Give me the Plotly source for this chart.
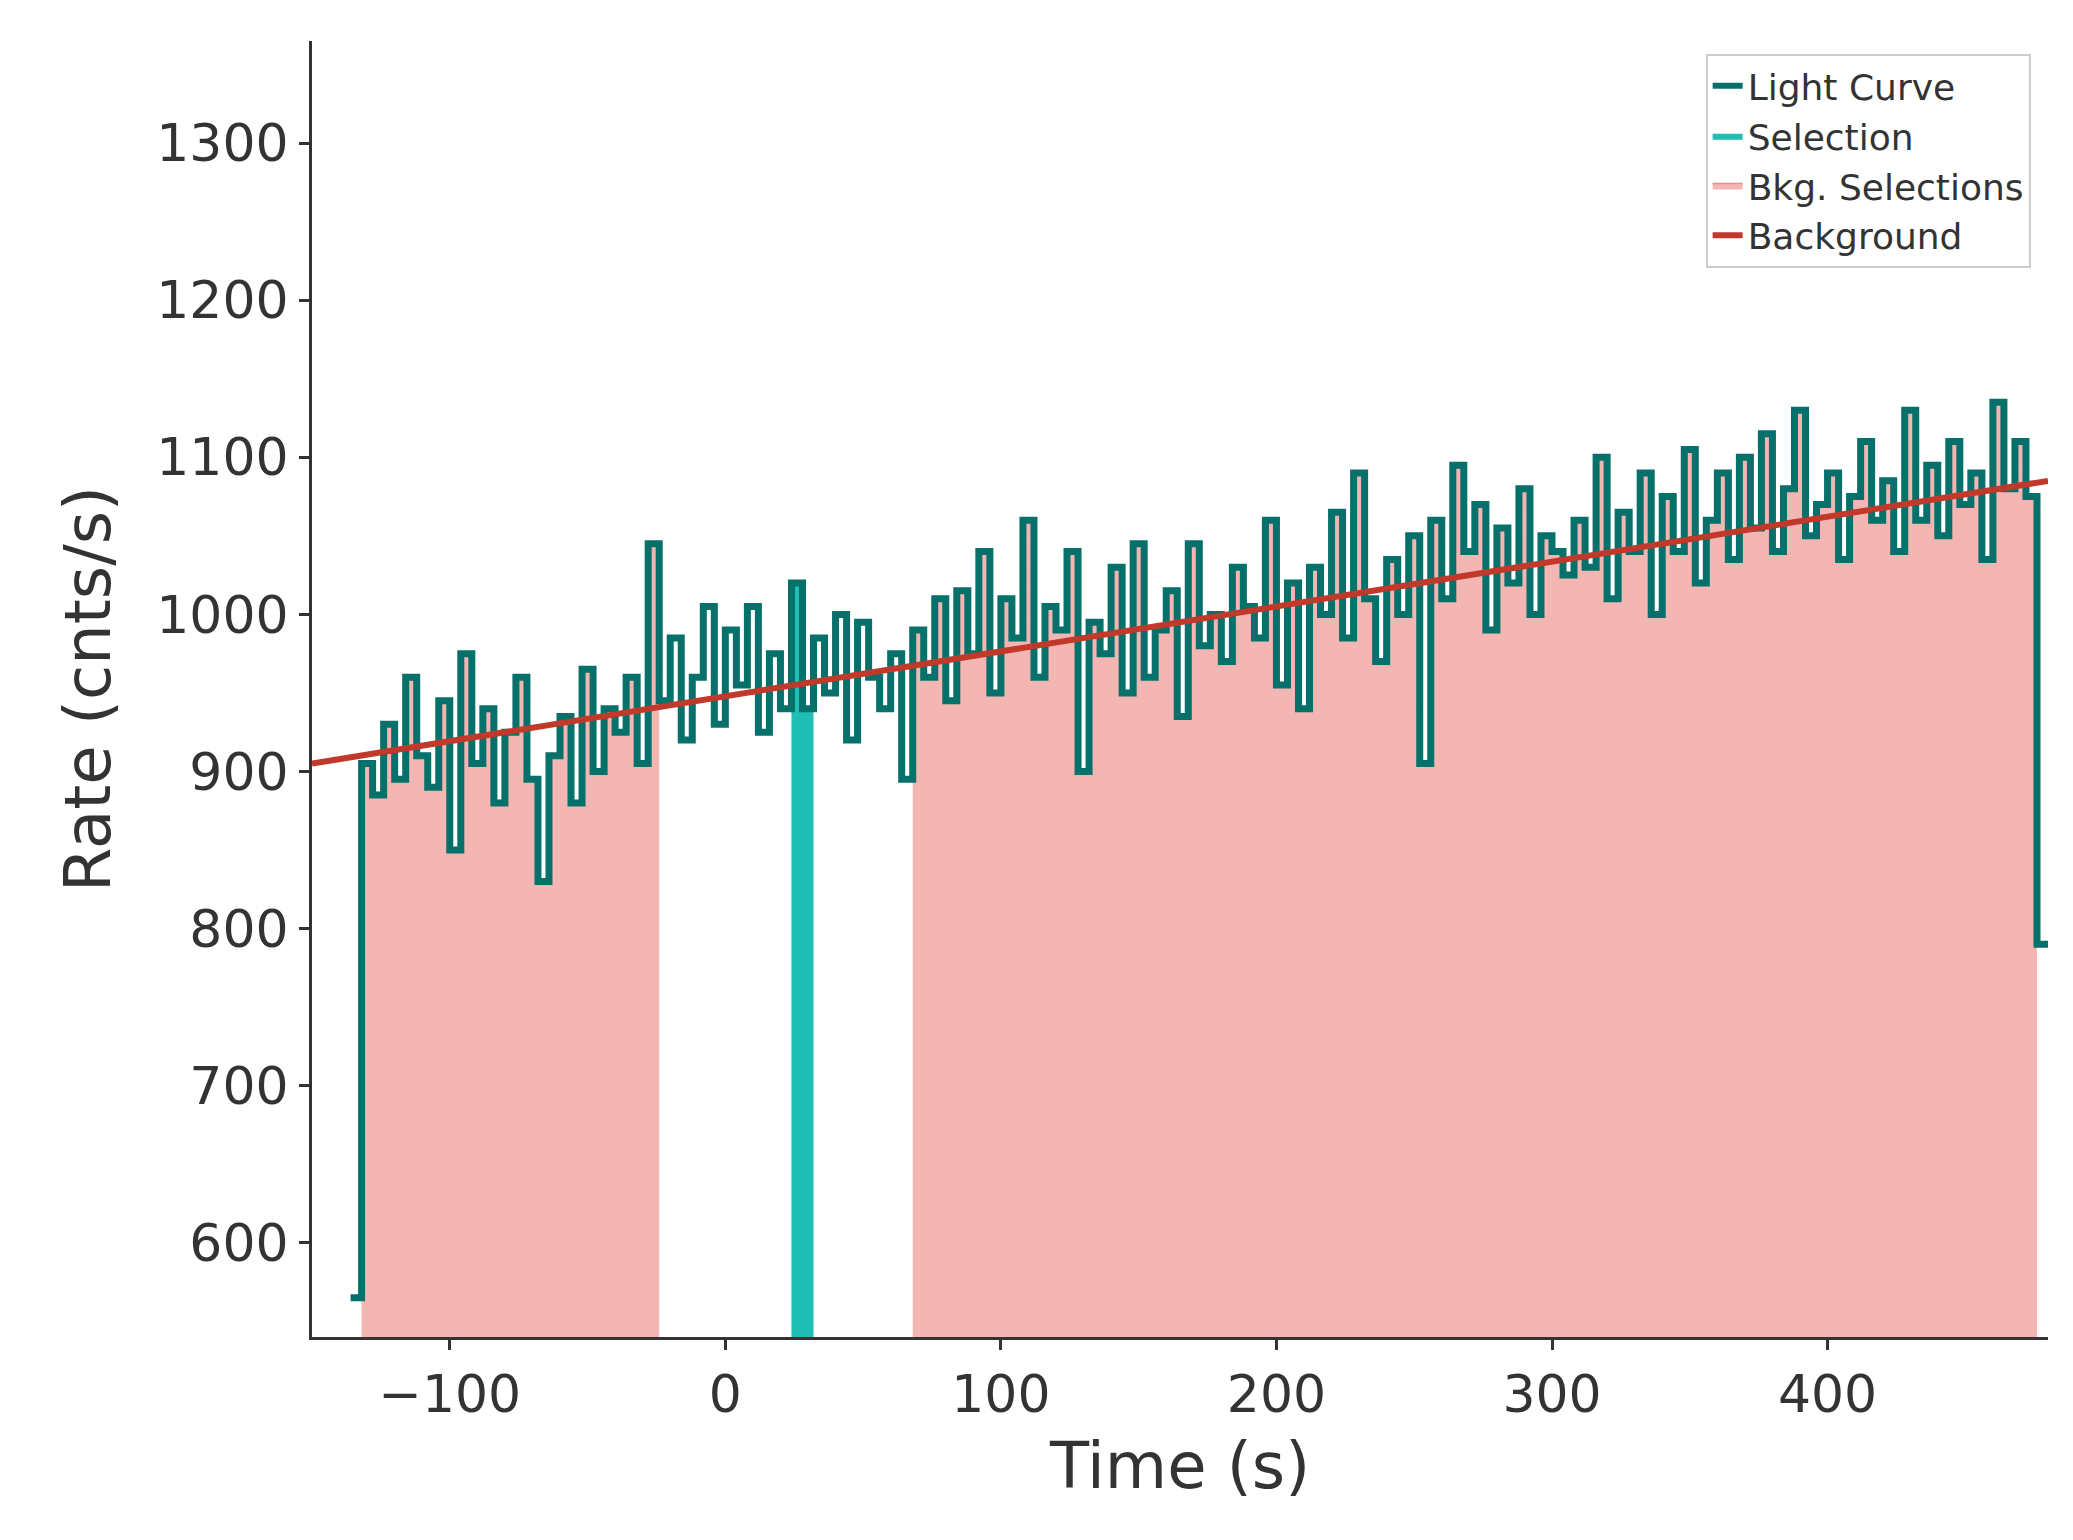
import plotly.graph_objects as go

t0 = -136
bin_w = 4
rates = [565,
 905, 885, 930, 895, 960, 910, 890, 945, 850,
 975, 905, 940, 880, 925, 960, 895, 830, 910,
 935, 880, 965, 900, 940, 925, 960, 905, 1045,
 945, 985, 920, 960, 1005, 930, 990, 955, 1005, 925, 975, 940,
 1020, 940,
 985, 950, 1000, 920, 995, 960, 940, 975, 895,
 990, 960, 1010, 945, 1015, 975, 1040, 950, 1010, 985,
 1060, 960, 1005, 990, 1040, 900, 995, 975, 1030, 950,
 1045, 960, 990, 1015, 935, 1045, 980, 1000, 970, 1030,
 1005, 985, 1060, 955, 1020, 940, 1030, 1000, 1065, 985,
 1090, 1010, 970, 1035, 1000, 1050, 905, 1060, 1010, 1095,
 1040, 1070, 990, 1055, 1020, 1080, 1000, 1050, 1040, 1025,
 1060, 1030, 1100, 1010, 1065, 1040, 1090, 1000, 1075, 1040,
 1105, 1020, 1060, 1090, 1035, 1100, 1055, 1115, 1040, 1080,
 1130, 1050, 1070, 1090, 1035, 1075, 1110, 1060, 1085, 1040,
 1130, 1060, 1095, 1050, 1110, 1070, 1090, 1035, 1135, 1080,
 1110, 1075, 790]
edges = [t0 + bin_w * i for i in range(len(rates) + 1)]

sel_bins = (40, 41)
bkg_bins = [(1, 27), (51, 152)]
bkg_line_x = [-150, 480]
bkg_line_y = [905, 1085]

def step(i, j):
    return edges[i:j + 2], rates[i:j + 1] + [rates[j]]

fig = go.Figure()
fig.add_trace(go.Scatter(x=[None], y=[None], mode="lines", line=dict(color="#06706a", width=6),
                         name="Light Curve"))
x, y = step(*sel_bins)
fig.add_trace(go.Scatter(x=x, y=y, mode="lines", line=dict(color="#1fbfb5", width=0, shape="hv"),
                         fill="tozeroy", fillcolor="#1fbfb5", name="Selection"))
for k, (i, j) in enumerate(bkg_bins):
    x, y = step(i, j)
    fig.add_trace(go.Scatter(x=x, y=y, mode="lines", line=dict(color="#f08a80", width=1.5, shape="hv"),
                             fill="tozeroy", fillcolor="#f4b6b2", name="Bkg. Selections",
                             showlegend=(k == 0)))
fig.add_trace(go.Scatter(x=edges, y=rates + [rates[-1]], mode="lines", line=dict(color="#06706a", width=7, shape="hv"),
                         showlegend=False))
fig.add_trace(go.Scatter(x=bkg_line_x, y=bkg_line_y, mode="lines", line=dict(color="#c0392b", width=6),
                         name="Background"))

axis = dict(showgrid=False, zeroline=False, showline=True, linecolor="#333", linewidth=3,
            ticks="outside", ticklen=10, tickwidth=2.5, tickcolor="#333",
            tickfont=dict(size=52, color="#333"))
fig.update_layout(
    width=2073, height=1540, plot_bgcolor="white", paper_bgcolor="white",
    font=dict(family="DejaVu Sans", color="#333"),
    margin=dict(l=304, r=33, t=33, b=211),
    xaxis=dict(axis, range=[-150, 480], tickvals=[-100, 0, 100, 200, 300, 400],
               ticktext=["\u2212100", "0", "100", "200", "300", "400"],
               title=dict(text="Time (s)", font=dict(size=64), standoff=20)),
    yaxis=dict(axis, range=[540, 1365], tickvals=list(range(600, 1301, 100)),
               title=dict(text="Rate (cnts/s)", font=dict(size=64), standoff=25)),
    legend=dict(x=0.99, y=0.99, xanchor="right", yanchor="top", bordercolor="#ccc", borderwidth=2,
                bgcolor="white", font=dict(size=36), traceorder="normal"),
)
fig.write_html("out.html")
